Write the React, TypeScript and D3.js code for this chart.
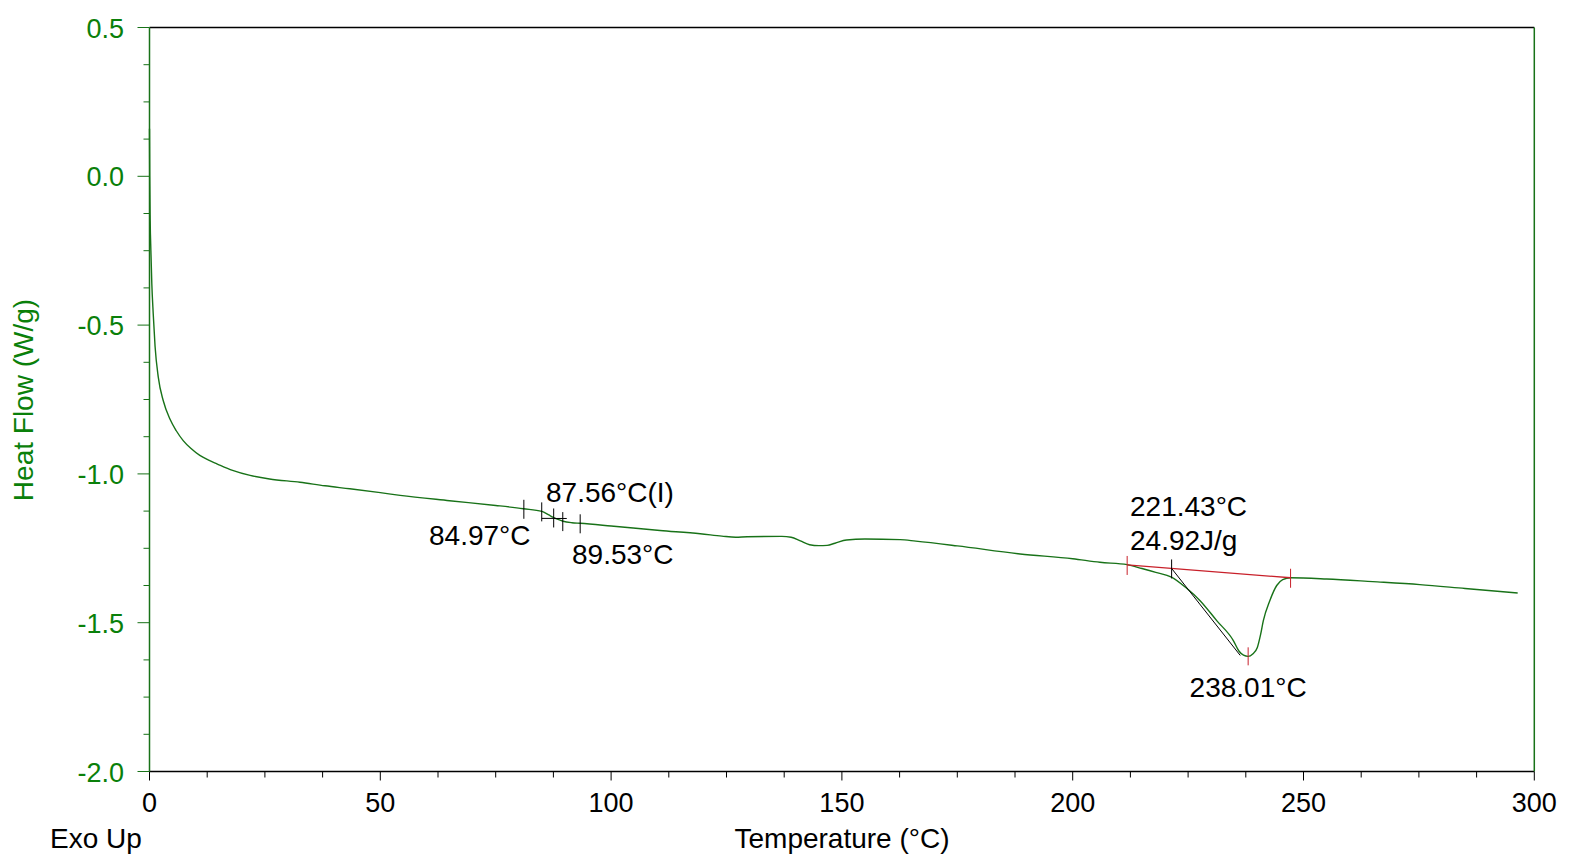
import React from "react";
import * as d3 from "d3";

const temps: number[] = [0, 0.05, 0.15, 0.3, 0.5, 0.8, 1.2, 1.9, 3.0, 4.4, 5.8, 7.3, 9.0, 10.9, 12.7, 14.6, 18, 21.8, 26, 32.6, 38, 43.4, 50, 54.3, 65, 75, 81, 85, 86.5, 87.5, 88.5, 89.6, 91.5, 93.3, 100, 110.6, 119.3, 124, 127, 129.5, 137, 139, 141, 143, 145, 146.8, 148.5, 151, 155, 162.6, 166, 175, 188.6, 200, 205.9, 211.8, 215, 218, 221.4, 224.5, 227.6, 231.2, 234.8, 236, 237, 238, 239, 240, 240.7, 241.3, 242.7, 244.2, 245.5, 247.2, 255, 265, 275.2, 285, 296.4];
const heatFlow: number[] = [0.16, 0.0, -0.15, -0.25, -0.36, -0.46, -0.57, -0.675, -0.755, -0.815, -0.855, -0.888, -0.915, -0.938, -0.953, -0.966, -0.988, -1.005, -1.017, -1.028, -1.04, -1.05, -1.063, -1.072, -1.09, -1.106, -1.117, -1.126, -1.138, -1.146, -1.153, -1.159, -1.164, -1.166, -1.175, -1.19, -1.201, -1.209, -1.213, -1.211, -1.21, -1.213, -1.225, -1.238, -1.241, -1.24, -1.233, -1.222, -1.219, -1.221, -1.226, -1.242, -1.269, -1.285, -1.297, -1.305, -1.318, -1.331, -1.347, -1.382, -1.426, -1.493, -1.56, -1.595, -1.609, -1.613, -1.605, -1.583, -1.54, -1.493, -1.426, -1.375, -1.355, -1.349, -1.353, -1.362, -1.372, -1.385, -1.40];

const xTicks: number[] = [0, 50, 100, 150, 200, 250, 300];
const yTicks: number[] = [0.5, 0.0, -0.5, -1.0, -1.5, -2.0];
const yTickLabels: string[] = ["0.5", "0.0", "-0.5", "-1.0", "-1.5", "-2.0"];

const glassTicks: number[] = [81.1, 84.97, 87.56, 89.53, 93.3];
const meltBaseline: [number, number][] = [[211.8, -1.306], [247.2, -1.349]];
const meltOnset = 221.43;
const meltPeak: [number, number] = [238.01, -1.613];

const GREEN_TXT = "#0a800a";
const GREEN_LINE = "#187218";

export default function App() {
  const x = d3.scaleLinear().domain([0, 300]).range([149.5, 1534.3]);
  const y = d3.scaleLinear().domain([-2, 0.5]).range([771.5, 27.5]);
  const pts: [number, number][] = temps.map((t, i) => [t, heatFlow[i]]);
  const line = d3
    .line<[number, number]>()
    .x((d) => x(d[0]))
    .y((d) => y(d[1]))
    .curve(d3.curveMonotoneX);

  const interp = (t: number) => {
    for (let i = 0; i < temps.length - 1; i++) {
      if (t >= temps[i] && t <= temps[i + 1]) {
        const f = (t - temps[i]) / (temps[i + 1] - temps[i]);
        return heatFlow[i] + f * (heatFlow[i + 1] - heatFlow[i]);
      }
    }
    return heatFlow[heatFlow.length - 1];
  };
  const baseAt = (t: number) => {
    const [a, b] = meltBaseline;
    return a[1] + ((t - a[0]) / (b[0] - a[0])) * (b[1] - a[1]);
  };

  const xMinor = d3.range(0, 300.01, 12.5);
  const yMinor = d3.range(-2, 0.501, 0.125);
  const font = "Arial, 'Liberation Sans', sans-serif";

  return (
    <svg
      width={1577}
      height={861}
      style={{ position: "absolute", left: 0, top: 0, background: "#fff" }}
      fontFamily={font}
    >
      {/* frame */}
      <line x1={x(0)} x2={x(300)} y1={y(0.5)} y2={y(0.5)} stroke="#000" strokeWidth={1.5} />
      <line x1={x(0)} x2={x(300)} y1={y(-2)} y2={y(-2)} stroke="#000" strokeWidth={1.5} />
      <line x1={x(0)} x2={x(0)} y1={y(0.5)} y2={y(-2)} stroke={GREEN_LINE} strokeWidth={1.5} />
      <line x1={x(300)} x2={x(300)} y1={y(0.5)} y2={y(-2)} stroke={GREEN_LINE} strokeWidth={1.5} />

      {/* x ticks */}
      {xMinor.map((t) => (
        <line key={"xm" + t} x1={x(t)} x2={x(t)} y1={y(-2)} y2={y(-2) + (t % 50 === 0 ? 9 : 6)} stroke="#000" strokeWidth={1} />
      ))}
      {xTicks.map((t) => (
        <text key={"xl" + t} x={x(t)} y={812} textAnchor="middle" fontSize={27} fill="#000">
          {t}
        </text>
      ))}

      {/* y ticks */}
      {yMinor.map((v) => {
        const major = Math.abs(v * 2 - Math.round(v * 2)) < 1e-6;
        return (
          <line key={"ym" + v} x1={x(0) - (major ? 12 : 6)} x2={x(0)} y1={y(v)} y2={y(v)} stroke={GREEN_LINE} strokeWidth={1} />
        );
      })}
      {yTicks.map((v, i) => (
        <text key={"yl" + v} x={124} y={y(v) + 10} textAnchor="end" fontSize={27} fill={GREEN_TXT}>
          {yTickLabels[i]}
        </text>
      ))}

      {/* axis titles */}
      <text x={842} y={848} textAnchor="middle" fontSize={28} fill="#000">
        Temperature (°C)
      </text>
      <text x={50} y={848} fontSize={28} fill="#000">
        Exo Up
      </text>
      <text transform={`translate(33,400) rotate(-90)`} textAnchor="middle" fontSize={28} fill={GREEN_TXT}>
        Heat Flow (W/g)
      </text>

      {/* curve */}
      <path d={line(pts) || ""} fill="none" stroke={GREEN_LINE} strokeWidth={1.4} />

      {/* glass transition marks */}
      {glassTicks.map((t) => (
        <line key={"g" + t} x1={x(t)} x2={x(t)} y1={y(interp(t)) - 9} y2={y(interp(t)) + 10} stroke="#000" strokeWidth={1} />
      ))}
      <line x1={x(glassTicks[1])} x2={x(glassTicks[2])} y1={y(interp(glassTicks[1])) + 7} y2={y(interp(glassTicks[1])) + 7} stroke="#000" strokeWidth={1} />
      <line x1={x(glassTicks[2])} x2={x(glassTicks[3]) + 4} y1={y(interp(glassTicks[2])) + 1} y2={y(interp(glassTicks[2])) + 1} stroke="#000" strokeWidth={1} />
      <text x={546} y={502} fontSize={28} fill="#000">87.56°C(I)</text>
      <text x={429} y={545} fontSize={28} fill="#000">84.97°C</text>
      <text x={572} y={564} fontSize={28} fill="#000">89.53°C</text>

      {/* melting analysis */}
      <line
        x1={x(meltOnset)}
        y1={y(baseAt(meltOnset))}
        x2={x(236.3)}
        y2={y(-1.61)}
        stroke="#000"
        strokeWidth={1}
      />
      <line
        x1={x(meltBaseline[0][0])}
        y1={y(meltBaseline[0][1])}
        x2={x(meltBaseline[1][0])}
        y2={y(meltBaseline[1][1])}
        stroke="#c8202a"
        strokeWidth={1.3}
      />
      <line x1={x(meltBaseline[0][0])} x2={x(meltBaseline[0][0])} y1={y(meltBaseline[0][1]) - 9} y2={y(meltBaseline[0][1]) + 10} stroke="#c8202a" strokeWidth={1} />
      <line x1={x(meltBaseline[1][0])} x2={x(meltBaseline[1][0])} y1={y(meltBaseline[1][1]) - 9} y2={y(meltBaseline[1][1]) + 10} stroke="#c8202a" strokeWidth={1} />
      <line x1={x(meltPeak[0])} x2={x(meltPeak[0])} y1={y(meltPeak[1]) - 9} y2={y(meltPeak[1]) + 9} stroke="#c8202a" strokeWidth={1} />
      <line x1={x(meltOnset)} x2={x(meltOnset)} y1={y(baseAt(meltOnset)) - 9} y2={y(baseAt(meltOnset)) + 10} stroke="#000" strokeWidth={1} />
      <text x={1130} y={516} fontSize={28} fill="#000">221.43°C</text>
      <text x={1130} y={550} fontSize={28} fill="#000">24.92J/g</text>
      <text x={x(meltPeak[0])} y={697} textAnchor="middle" fontSize={28} fill="#000">238.01°C</text>
    </svg>
  );
}
